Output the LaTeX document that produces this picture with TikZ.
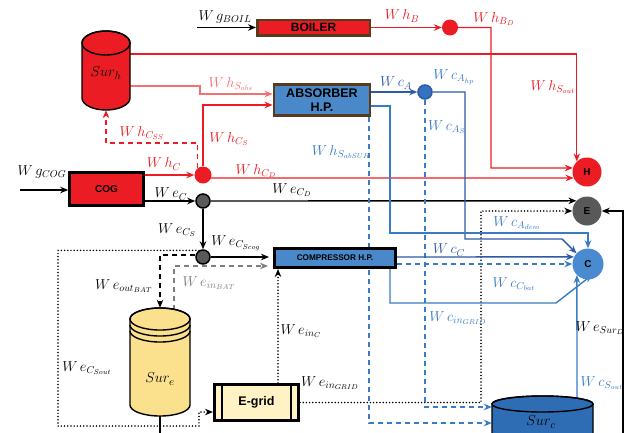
\documentclass[tikz,border=0pt]{standalone}
\usepackage{fontspec}
\newfontfamily\sfb{Liberation Sans}
\usetikzlibrary{arrows.meta,calc}
\definecolor{myred}{HTML}{EC1C24}
\definecolor{salmon}{HTML}{F27272}
\definecolor{brownb}{HTML}{5A3A1C}
\definecolor{boxblue}{HTML}{4A89C9}
\definecolor{cblue}{HTML}{4A8AD0}
\definecolor{dblue}{HTML}{2C5AA6}
\definecolor{lblue}{HTML}{3A7CC4}
\definecolor{surcblue}{HTML}{2E6DB4}
\definecolor{jblue}{HTML}{3572C0}
\definecolor{darkg}{HTML}{595959}
\definecolor{surey}{HTML}{FBE08E}
\definecolor{egridy}{HTML}{FFF3C6}
\definecolor{grayl}{HTML}{7F7F7F}
\pgfdeclarelayer{back}
\pgfdeclarelayer{bg}
\pgfsetlayers{back,bg,main}
\begin{document}
\begin{tikzpicture}[x=1pt,y=-1pt,
  ln/.style={line width=1.4pt},
  arr/.style={-{Stealth[length=8pt,width=6.5pt]}},
  dsh/.style={dash pattern=on 5pt off 4pt},
  dot/.style={line width=1.7pt, line cap=round, dash pattern=on 0pt off 3.2pt},
  lab/.style={font=\fontsize{14.5}{16}\selectfont, inner sep=0pt},
  box/.style={rectangle, inner sep=0pt, align=center},
  circ/.style={circle, inner sep=0pt, minimum size=29pt, font=\sfb\bfseries\fontsize{10}{12}\selectfont},
  jn/.style={circle, inner sep=0pt, minimum size=16pt},
  cyl/.style={line width=1.4pt, draw=black}]
\clip (0,0) rectangle (632,432);
\begin{pgfonlayer}{back}
\fill[white] (0,0) rectangle (632,432);
\end{pgfonlayer}

% ---------- boxes ----------
\node[box, fill=myred, draw=brownb, line width=2.5pt, minimum width=112.5pt, minimum height=15.5pt,
      font=\sfb\bfseries\fontsize{12}{14}\selectfont] (boiler) at (313.5,27.5) {BOILER};
\node[box, fill=boxblue, draw=brownb, line width=2.8pt, minimum width=96pt, minimum height=31pt,
      font=\sfb\bfseries\fontsize{12.5}{14}\selectfont] (absorber) at (322,100) {ABSORBER\\H.P.};
\node[box, fill=myred, draw=black, line width=2.6pt, minimum width=74pt, minimum height=33pt,
      font=\sfb\bfseries\fontsize{10}{12}\selectfont] (cog) at (106.5,189) {COG};
\node[box, fill=boxblue, draw=black, line width=3pt, minimum width=121pt, minimum height=19pt,
      font=\sfb\bfseries\fontsize{8.2}{10}\selectfont] (compressor) at (335,258) {COMPRESSOR H.P.};
\node[box, fill=egridy, draw=black, line width=3pt, minimum width=84pt, minimum height=36pt,
      font=\sfb\bfseries\fontsize{12.5}{14}\selectfont] (egrid) at (256.5,402.5) {E-grid};
\draw[line width=2.5pt] (222,385) -- (222,420) (291,385) -- (291,420);

% ---------- demand circles ----------
\node[circ, fill=myred] (H) at (587,172) {H};
\node[circ, fill=darkg] (E) at (587,211) {E};
\node[circ, fill=cblue, minimum size=31pt] (C) at (588,264) {C};

% ---------- junctions ----------
\node[jn, fill=myred] (jB) at (450,27.5) {};
\node[jn, fill=jblue, draw=dblue, line width=1.5pt, minimum size=14pt] (jA) at (425,92) {};
\node[jn, fill=myred, minimum size=17pt] (jH) at (203,175) {};
\node[jn, fill=darkg, draw=black, line width=1.5pt, minimum size=14pt] (jE1) at (203,201) {};
\node[jn, fill=darkg, draw=black, line width=1.5pt, minimum size=14pt] (jE2) at (203,257) {};

% ---------- storages ----------
% Sur_h
\filldraw[cyl, fill=myred] (82,43) -- (82,98) arc[start angle=180, end angle=0, x radius=24, y radius=12] -- (130,43)
   arc[start angle=0, end angle=-180, x radius=24, y radius=12] -- cycle;
\draw[cyl] (106,43) ellipse[x radius=24, y radius=12];
\node[minimum width=48pt, minimum height=80pt, inner sep=0pt] (surh) at (106,70) {};
\node[lab, font=\fontsize{15}{17}\selectfont] (surhl) at (106,73) {$Sur_h$};
% Sur_e
\filldraw[cyl, fill=surey] (130,319) -- (130,405) arc[start angle=180, end angle=0, x radius=30, y radius=11] -- (190,319)
   arc[start angle=0, end angle=-180, x radius=30, y radius=11] -- cycle;
\draw[cyl] (160,319) ellipse[x radius=30, y radius=11];
\draw[cyl] (130,325) arc[start angle=180, end angle=0, x radius=30, y radius=11];
\draw[cyl] (130,331) arc[start angle=180, end angle=0, x radius=30, y radius=11];
\node[minimum width=60pt, minimum height=108pt, inner sep=0pt] (sure) at (160,362) {};
\node[lab, font=\fontsize{15}{17}\selectfont] (surel) at (160,379) {$Sur_e$};
% Sur_c
\filldraw[cyl, fill=surcblue] (492,404) -- (492,470) -- (593,470) -- (593,404)
   arc[start angle=0, end angle=-180, x radius=50.5, y radius=8] -- cycle;
\draw[cyl] (542.5,404) ellipse[x radius=50.5, y radius=8];
\node[minimum width=101pt, minimum height=66pt, inner sep=0pt] (surc) at (542.5,430) {};
\node[lab, font=\fontsize{15}{17}\selectfont] (surcl) at (541,422) {$Sur_c$};

% ---------- free ends ----------
\coordinate (wgbin) at (197,27.5);
\coordinate (wgcin) at (20,190);
\coordinate (inbat) at (174,310);
\coordinate (csout) at (577,398);
\coordinate (eright) at (623,445);
\coordinate (ebot) at (160,445);

\begin{pgfonlayer}{bg}
% red
\draw[ln, arr] (wgbin) -- (boiler.west);
\draw[ln, myred, arr] (boiler.east) -- (jB.west);
\draw[ln, myred, arr] (jB.east) -| (491,168) -- (H.164);
\draw[ln, myred, arr] (surh.east |- 0,54) -| (H.134);
\draw[ln, salmon, arr] (surh.east |- 0,86) -- (200,86) -- (200,94) -- (absorber.west |- 0,94);
\draw[ln, myred, arr] (jH.north) |- (absorber.west |- 0,105);
\draw[ln, myred, dsh, arr] (jH.130) |- (106,143) -- (surh.south);
\draw[ln, myred, arr] (cog.east |- jH) -- (jH.west);
\draw[ln, myred, arr] (jH |- 0,178) -- (H.204);
% black
\draw[ln, arr] (wgcin) -- (cog.west |- wgcin);
\draw[ln, arr] (cog.east |- jE1) -- (jE1.west);
\draw[ln, arr] (jE1.east) -- (E.136);
\draw[ln, arr] (jE1.south) -- (jE2.north);
\draw[ln, arr, shorten >=4pt] (jE2.east) -- (compressor.west |- jE2);
\draw[ln, dsh, arr] (jE2.west |- 0,255) -| (sure.north);
\draw[ln, grayl, dsh, arr, shorten >=5pt] (inbat) |- (compressor.west |- 0,266);
\draw[dot, arr] (jE2.121) -| (58,426) -| (199,412) -- (egrid.west |- 0,412);
\draw[ln] (sure.south) -- (ebot);
\draw[dot, arr] (278,0 |- egrid.north) -- (278,0 |- compressor.south);
\draw[dot, arr] (egrid.east) -| (481,211) -- (E.west);
\draw[ln, arr] (eright) |- (E.east);
% blue
\draw[ln, dblue, arr] (absorber.east |- jA) -- (jA.west);
\draw[ln, dblue, arr] (jA.east) -| (465,239) -- (562,239) -- (C.137);
\draw[ln, lblue, dsh, arr] (jA.south) |- (surc.west |- 0,407);
\draw[ln, lblue, arr] (absorber.east |- 0,106) -- (390,106) -- (390,233) -| (C.north);
\draw[ln, lblue, dsh, arr] (369,0 |- absorber.south) |- (surc.west |- 0,423);
\draw[ln, dblue, arr] (compressor.east |- 0,257) -- (C.153);
\draw[ln, lblue, dsh, arr] (compressor.east |- C) -- (C.west);
\draw[ln, lblue, arr] (390,0 |- compressor.south) -- (390,303) -- (556,303) -- ($(C)+(4,11)$);
\draw[ln, lblue, arr] (csout) -- (C.225);
\end{pgfonlayer}

% ---------- labels ----------
\node[lab] (l1) at (225,17) {$W\,g_{BOIL}$};
\node[lab, myred] (l2) at (402,16) {$W\,h_{B}$};
\node[lab, myred] (l3) at (494,19) {$W\,h_{B_D}$};
\node[lab, myred] (l4) at (553,87) {$W\,h_{S_{out}}$};
\node[lab, salmon] (l5) at (231,84) {$W\,h_{S_{abs}}$};
\node[lab, dblue] (l6) at (396,83) {$W\,c_{A}$};
\node[lab, lblue] (l7) at (454,77) {$W\,c_{A_{hp}}$};
\node[lab, lblue] (l8) at (447,127) {$W\,c_{A_S}$};
\node[lab, myred] (l9) at (229,139) {$W\,h_{C_S}$};
\node[lab, myred] (l10) at (142,133) {$W\,h_{C_{SS}}$};
\node[lab, lblue] (l11) at (341,152) {$W\,h_{S_{abSUR}}$};
\node[lab, myred] (l12) at (164,164) {$W\,h_{C}$};
\node[lab, myred] (l13) at (256,171) {$W\,h_{C_D}$};
\node[lab] (l14) at (42,172) {$W\,g_{COG}$};
\node[lab] (l15) at (171,194) {$W\,e_{C}$};
\node[lab] (l16) at (292,190) {$W\,e_{C_D}$};
\node[lab, lblue] (l17) at (517,223) {$W\,c_{A_{dem}}$};
\node[lab] (l18) at (177,230) {$W\,e_{C_S}$};
\node[lab] (l19) at (236,243) {$W\,e_{C_{Scog}}$};
\node[lab, dblue] (l20) at (449,250) {$W\,c_{C}$};
\node[lab] (l21) at (124,286) {$W\,e_{out_{BAT}}$};
\node[lab, grayl] (l22) at (209,283) {$W\,e_{in_{BAT}}$};
\node[lab, lblue] (l23) at (514,284) {$W\,c_{C_{bat}}$};
\node[lab, lblue] (l24) at (458,318) {$W\,c_{in_{GRID}}$};
\node[lab] (l25) at (301,331) {$W\,e_{in_C}$};
\node[lab] (l26) at (600,328) {$W\,e_{Sur_D}$};
\node[lab] (l27) at (87,368) {$W\,e_{C_{Sout}}$};
\node[lab] (l28) at (330,383) {$W\,e_{in_{GRID}}$};
\node[lab, lblue] (l29) at (602,383) {$W\,c_{S_{out}}$};
\end{tikzpicture}
\end{document}
